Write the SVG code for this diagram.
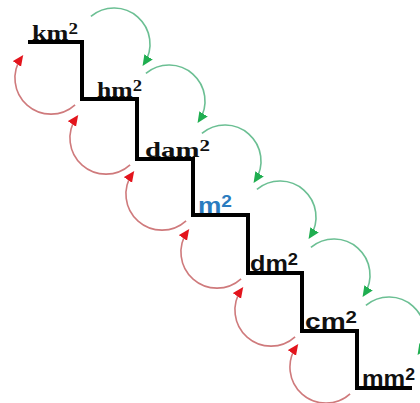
<svg xmlns="http://www.w3.org/2000/svg" width="420" height="403" viewBox="0 0 420 403">
<style>
.stair{fill:none;stroke:#000;stroke-width:4;stroke-linejoin:miter}
.lbl{font-size:22px;font-weight:bold;fill:#111}
.serif{font-family:"Liberation Serif","Times New Roman",serif}
.sans{font-family:"Liberation Sans",Arial,sans-serif}
.sup{font-size:16px}
.blue{fill:#2a7cc0}
.g{fill:none;stroke:#6bbf93;stroke-width:1.6;marker-end:url(#ag)}
.r{fill:none;stroke:#cf7a7c;stroke-width:1.6;marker-end:url(#ar)}
</style>
<defs>
<marker id="ag" markerUnits="userSpaceOnUse" markerWidth="12" markerHeight="12" refX="8" refY="5" orient="auto"><path d="M0,0 L11,5 L0,10 z" fill="#1fae50"/></marker>
<marker id="ar" markerUnits="userSpaceOnUse" markerWidth="12" markerHeight="12" refX="8" refY="5" orient="auto"><path d="M0,0 L11,5 L0,10 z" fill="#e3141c"/></marker>
</defs>
<rect width="420" height="403" fill="#fff"/>
<path class="stair" d="M28,42 H82 V99 H137 V159 H193 V215 H248 V273 H302 V331 H357 V388 H412"/>
<g id="connectors">
<path class="g" d="M90.9,16.4 A36,36 0 0 1 144.2,63.6"/>
<path class="g" d="M145.9,73.4 A36,36 0 0 1 199.2,120.6"/>
<path class="g" d="M201.9,133.4 A36,36 0 0 1 255.2,180.6"/>
<path class="g" d="M256.9,189.4 A36,36 0 0 1 310.2,236.6"/>
<path class="g" d="M310.9,247.4 A36,36 0 0 1 364.2,294.6"/>
<path class="g" d="M365.9,305.4 A36,36 0 0 1 419.2,352.6"/>
<path class="r" d="M75.1,104.8 A36,36 0 0 1 21.5,57.4"/>
<path class="r" d="M130.1,164.8 A36,36 0 0 1 76.5,117.4"/>
<path class="r" d="M186.1,220.8 A36,36 0 0 1 132.5,173.4"/>
<path class="r" d="M241.1,278.8 A36,36 0 0 1 187.5,231.4"/>
<path class="r" d="M295.1,336.8 A36,36 0 0 1 241.5,289.4"/>
<path class="r" d="M350.1,393.8 A36,36 0 0 1 296.5,346.4"/>
</g>
<g id="km"><text class="lbl serif" x="32" y="40" textLength="46" lengthAdjust="spacingAndGlyphs">km<tspan class="sup" dy="-6">2</tspan></text></g>
<g id="hm"><text class="lbl serif" x="97" y="97" textLength="45" lengthAdjust="spacingAndGlyphs">hm<tspan class="sup" dy="-6">2</tspan></text></g>
<g id="dam"><text class="lbl serif" x="145" y="157" textLength="65" lengthAdjust="spacingAndGlyphs">dam<tspan class="sup" dy="-6">2</tspan></text></g>
<g id="m"><text class="lbl sans blue" x="198" y="213" textLength="34" lengthAdjust="spacingAndGlyphs">m<tspan class="sup" dy="-6">2</tspan></text></g>
<g id="dm"><text class="lbl sans" x="250" y="271" textLength="48" lengthAdjust="spacingAndGlyphs">dm<tspan class="sup" dy="-6">2</tspan></text></g>
<g id="cm"><text class="lbl sans" x="305" y="329" textLength="52" lengthAdjust="spacingAndGlyphs">cm<tspan class="sup" dy="-6">2</tspan></text></g>
<g id="mm"><text class="lbl sans" x="362" y="386" textLength="53" lengthAdjust="spacingAndGlyphs">mm<tspan class="sup" dy="-6">2</tspan></text></g>
</svg>
